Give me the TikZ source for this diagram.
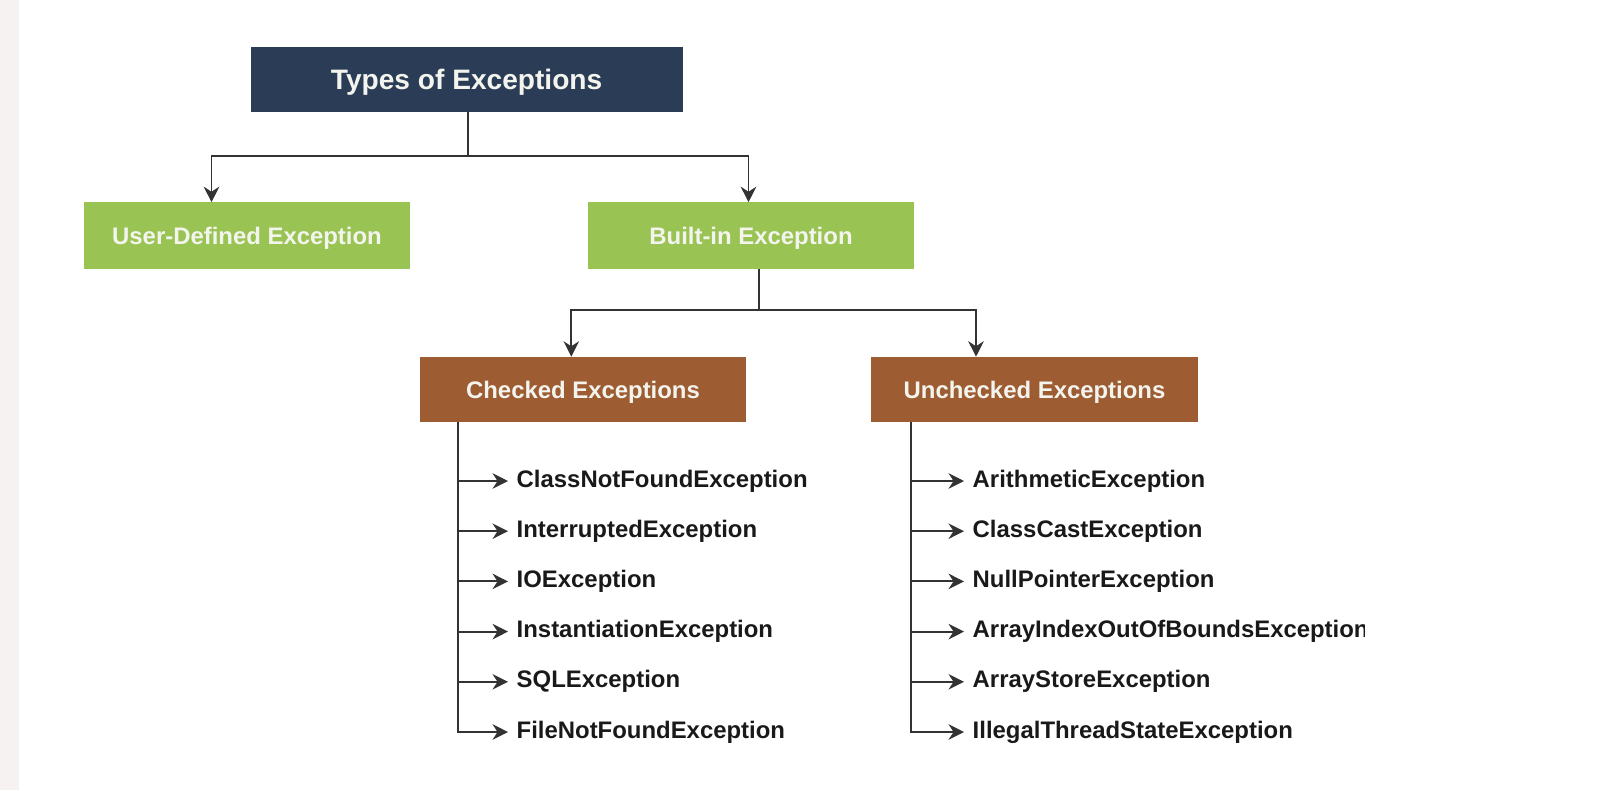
\documentclass[tikz,border=0pt]{standalone}
\usepackage{fontspec}
\setmainfont{Liberation Sans}
\usetikzlibrary{arrows.meta,calc}

\definecolor{navy}{HTML}{2B3D56}
\definecolor{leaf}{HTML}{99C454}
\definecolor{rust}{HTML}{9D5C32}
\definecolor{paper}{HTML}{F6F2F2}
\definecolor{boxtext}{HTML}{F4F4EE}

\tikzset{
  kind/.style={minimum width=8.15cm,minimum height=1.65cm,inner sep=0pt,text depth=0pt,
    text=boxtext,font=\fontsize{17}{20}\selectfont\bfseries},
  item/.style={anchor=west,inner xsep=6pt,inner ysep=0pt,
    font=\fontsize{17}{20}\selectfont\bfseries,text=black!90},
  link/.style={draw=black!80,line width=1.3pt},
}

\begin{document}
\begin{tikzpicture}[x=0.025cm,y=-0.025cm,>={Stealth[length=11pt,width=11pt]}]
\useasboundingbox (0,0) rectangle (1610,790);
\fill[paper] (0,0) rectangle (19,790);
% boxes
\node[kind,fill=navy,minimum width=10.8cm,minimum height=1.625cm,
  font=\fontsize{20}{24}\selectfont\bfseries] (types) at (466.6,79.5) {Types of Exceptions};
\node[kind,fill=leaf] (userdef) at (247,235.5) {User-Defined Exception};
\node[kind,fill=leaf] (builtin) at (751,235.5) {Built-in Exception};
\node[kind,fill=rust,minimum height=1.625cm] (checked) at (583,389.5) {Checked Exceptions};
\node[kind,fill=rust,minimum height=1.625cm] (unchecked) at (1034.5,389.5) {Unchecked Exceptions};
% first split
\draw[link] ($(types.south)+(1.4,0)$) -- ++(0,44) coordinate (fork1);
\draw[link,->] (fork1) -| ($(userdef.north)+(-35.5,0)$);
\draw[link,->] (fork1) -| ($(builtin.north)+(-2.5,0)$);
% second split
\draw[link] ($(builtin.south)+(8,0)$) -- ++(0,41) coordinate (fork2);
\draw[link,->] (fork2) -| ($(checked.north)+(-11.7,0)$);
\draw[link,->] (fork2) -| ($(unchecked.north)+(-58.5,0)$);
% checked list
\foreach \name [count=\i] in {ClassNotFoundException,InterruptedException,IOException,
  InstantiationException,SQLException,FileNotFoundException}
  \node[item] (c\i) at (508,{481+50.2*(\i-1)}) {\name};
\coordinate (ctrunk) at ($(checked.south west)+(38,0)$);
\foreach \i in {1,...,5}
  \draw[link,->] (c\i.west -| ctrunk) -- (c\i.west);
\draw[link,->] (ctrunk) |- (c6.west);
% unchecked list
\begin{scope}
\clip (0,0) rectangle (1364,790);
\foreach \name [count=\i] in {ArithmeticException,ClassCastException,NullPointerException,
  ArrayIndexOutOfBoundsException,ArrayStoreException,IllegalThreadStateException}
  \node[item] (u\i) at (964,{481+50.2*(\i-1)}) {\name};
\end{scope}
\coordinate (utrunk) at ($(unchecked.south west)+(40,0)$);
\foreach \i in {1,...,5}
  \draw[link,->] (u\i.west -| utrunk) -- (u\i.west);
\draw[link,->] (utrunk) |- (u6.west);
\end{tikzpicture}
\end{document}
